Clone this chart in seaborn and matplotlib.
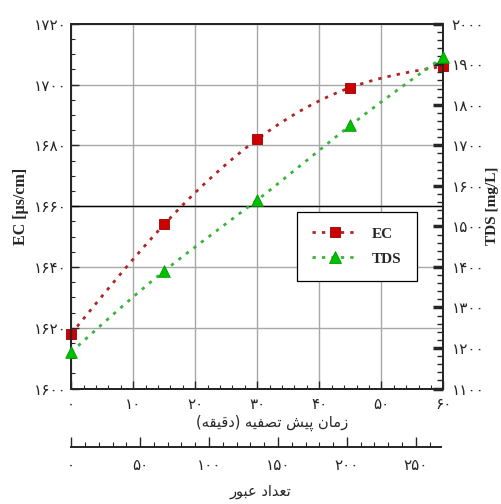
import numpy as np
import pandas as pd
import matplotlib
matplotlib.use("Agg")
import matplotlib.pyplot as plt
import seaborn as sns
from matplotlib.lines import Line2D
from matplotlib.ticker import MultipleLocator, FixedLocator, FuncFormatter

# values
time_min = [0, 15, 30, 45, 60]
ec_values = [1618, 1654, 1682, 1699, 1706]
tds_values = [1190, 1390, 1565, 1749, 1918]

x_label = "زمان پیش تصفیه (دقیقه)"
x2_label = "تعداد عبور"
ec_label = "EC [µs/cm]"
tds_label = "TDS [mg/L]"

# contextual forms for the persian letters used above (iso, final, initial, medial)
FORMS = {
    "ا": ("\uFE8D", "\uFE8E", None, None),
    "ب": ("\uFE8F", "\uFE90", "\uFE91", "\uFE92"),
    "پ": ("\uFB56", "\uFB57", "\uFB58", "\uFB59"),
    "ت": ("\uFE95", "\uFE96", "\uFE97", "\uFE98"),
    "د": ("\uFEA9", "\uFEAA", None, None),
    "ر": ("\uFEAD", "\uFEAE", None, None),
    "ز": ("\uFEAF", "\uFEB0", None, None),
    "ش": ("\uFEB5", "\uFEB6", "\uFEB7", "\uFEB8"),
    "ص": ("\uFEB9", "\uFEBA", "\uFEBB", "\uFEBC"),
    "ع": ("\uFEC9", "\uFECA", "\uFECB", "\uFECC"),
    "ف": ("\uFED1", "\uFED2", "\uFED3", "\uFED4"),
    "ق": ("\uFED5", "\uFED6", "\uFED7", "\uFED8"),
    "م": ("\uFEE1", "\uFEE2", "\uFEE3", "\uFEE4"),
    "ن": ("\uFEE5", "\uFEE6", "\uFEE7", "\uFEE8"),
    "ه": ("\uFEE9", "\uFEEA", "\uFEEB", "\uFEEC"),
    "و": ("\uFEED", "\uFEEE", None, None),
    "ی": ("\uFBFC", "\uFBFD", "\uFBFE", "\uFBFF"),
}


def shape(text):
    # matplotlib has no arabic shaping, so pick forms and reverse by hand
    out = []
    for i, ch in enumerate(text):
        if ch not in FORMS:
            out.append(ch)
            continue
        prev = text[i - 1] if i > 0 else ""
        nxt = text[i + 1] if i + 1 < len(text) else ""
        jp = prev in FORMS and FORMS[prev][2] is not None
        jn = nxt in FORMS and FORMS[ch][2] is not None
        iso, fin, ini, med = FORMS[ch]
        if jp and jn:
            out.append(med)
        elif jp:
            out.append(fin)
        elif jn:
            out.append(ini)
        else:
            out.append(iso)
    vis = "".join(reversed(out))
    return vis.translate(str.maketrans("()", ")("))


def fa_num(v, pos=None):
    return str(int(round(v))).translate(str.maketrans("0123456789", "۰۱۲۳۴۵۶۷۸۹"))


def smooth(x, y, n=300):
    # natural cubic spline through the points, only for the curve shape
    x = np.asarray(x, float)
    y = np.asarray(y, float)
    h = np.diff(x)
    m = len(x)
    A = np.zeros((m, m))
    b = np.zeros(m)
    A[0, 0] = A[-1, -1] = 1
    for i in range(1, m - 1):
        A[i, i - 1] = h[i - 1]
        A[i, i] = 2 * (h[i - 1] + h[i])
        A[i, i + 1] = h[i]
        b[i] = 3 * ((y[i + 1] - y[i]) / h[i] - (y[i] - y[i - 1]) / h[i - 1])
    c = np.linalg.solve(A, b)
    bb = (y[1:] - y[:-1]) / h - h * (2 * c[:-1] + c[1:]) / 3
    d = (c[1:] - c[:-1]) / (3 * h)
    xs = np.linspace(x[0], x[-1], n)
    idx = np.clip(np.searchsorted(x, xs, side="right") - 1, 0, m - 2)
    t = xs - x[idx]
    ys = y[idx] + bb[idx] * t + c[idx] * t ** 2 + d[idx] * t ** 3
    return xs, ys


df = pd.DataFrame({"time": time_min, "EC": ec_values, "TDS": tds_values})

sns.set_style("ticks")
plt.rcParams["font.family"] = ["DejaVu Sans"]
plt.rcParams["axes.linewidth"] = 1.4

ec_line = "#b02525"
ec_mark = "#cc0000"
tds_line = "#3cb43c"
tds_mark = "#00c000"
dots = (0, (1.2, 2.2))
tick_size = 11

fig, ax = plt.subplots(figsize=(5.01, 5.04), dpi=100)
fig.subplots_adjust(left=0.142, right=0.885, top=0.953, bottom=0.229)
ax2 = ax.twinx()
ax3 = ax.twiny()

xs, ys = smooth(df["time"], df["EC"])
ax.plot(xs, ys, color=ec_line, lw=2, ls=dots, zorder=3)
sns.scatterplot(data=df, x="time", y="EC", ax=ax, marker="s", s=52,
                color=ec_mark, edgecolor="#990000", linewidth=0.6, zorder=4, clip_on=False)

xs, ys = smooth(df["time"], df["TDS"])
ax2.plot(xs, ys, color=tds_line, lw=2, ls=dots, zorder=3)
sns.scatterplot(data=df, x="time", y="TDS", ax=ax2, marker="^", s=70,
                color=tds_mark, edgecolor="#009900", linewidth=0.6, zorder=4, clip_on=False)

# main axes
ax.set_xlim(0, 60)
ax.set_ylim(1600, 1720)
ax.xaxis.set_major_locator(MultipleLocator(10))
ax.xaxis.set_minor_locator(MultipleLocator(2))
ax.yaxis.set_major_locator(MultipleLocator(20))
ax.yaxis.set_minor_locator(MultipleLocator(5))
ax.xaxis.set_major_formatter(FuncFormatter(fa_num))
ax.yaxis.set_major_formatter(FuncFormatter(fa_num))
ax.tick_params(axis="both", which="both", direction="in", top=False, right=False, labelsize=tick_size)
ax.tick_params(axis="both", which="major", length=6, width=1)
ax.tick_params(axis="both", which="minor", length=3, width=0.8)
ax.tick_params(axis="x", pad=6)
ax.tick_params(axis="y", pad=3)
ax.grid(True, which="major", color="#a8a8a8", lw=1)
ax.axhline(1660, color="black", lw=1, zorder=1)
ax.set_xlabel(shape(x_label), fontsize=10.5, labelpad=2, x=0.54)
ax.set_ylabel(ec_label, fontfamily="Liberation Serif", fontweight="bold", fontsize=11.5, labelpad=4)

# right axis
ax2.set_ylim(1100, 2000)
ax2.yaxis.set_major_locator(MultipleLocator(100))
ax2.yaxis.set_minor_locator(MultipleLocator(20))
ax2.yaxis.set_major_formatter(FuncFormatter(fa_num))
ax2.tick_params(axis="y", which="both", direction="in", pad=6, labelsize=tick_size)
ax2.tick_params(axis="y", which="major", length=7, width=2.5)
ax2.tick_params(axis="y", which="minor", length=4, width=1)
ax2.set_ylabel(tds_label, fontfamily="Liberation Serif", fontweight="bold", fontsize=11, labelpad=1)

# second bottom axis (number of passes)
ax3.xaxis.set_ticks_position("bottom")
ax3.xaxis.set_label_position("bottom")
ax3.spines["bottom"].set_position(("outward", 42))
for side in ["top", "left", "right"]:
    ax3.spines[side].set_visible(False)
ax3.set_xlim(0, 270)
ax3.spines["bottom"].set_bounds(0, 268)
ax3.xaxis.set_major_locator(MultipleLocator(50))
ax3.xaxis.set_minor_locator(FixedLocator(np.arange(0, 261, 10)))
ax3.xaxis.set_major_formatter(FuncFormatter(fa_num))
ax3.tick_params(axis="x", which="both", direction="in", pad=8, labelsize=tick_size)
ax3.tick_params(axis="x", which="major", length=7, width=1)
ax3.tick_params(axis="x", which="minor", length=3.5, width=0.8)
ax3.set_xlabel(shape(x2_label), fontsize=10.5, labelpad=8, x=0.51)

handles = [
    Line2D([], [], color=ec_line, lw=2, ls=dots, marker="s", ms=7.5,
           mfc=ec_mark, mec="#990000", mew=0.6),
    Line2D([], [], color=tds_line, lw=2, ls=dots, marker="^", ms=8.5,
           mfc=tds_mark, mec="#009900", mew=0.6),
]
leg = ax2.legend(handles, ["EC", "TDS"], loc="lower left", bbox_to_anchor=(0.607, 0.295),
                 prop=dict(family="Liberation Serif", weight="bold", size=11),
                 frameon=True, fancybox=False, edgecolor="black", framealpha=1,
                 handlelength=3.0, handletextpad=0.9, labelspacing=0.75, borderpad=1.0,
                 borderaxespad=0)
leg.get_frame().set_linewidth(0.9)

fig.savefig("out.png", dpi=100)
